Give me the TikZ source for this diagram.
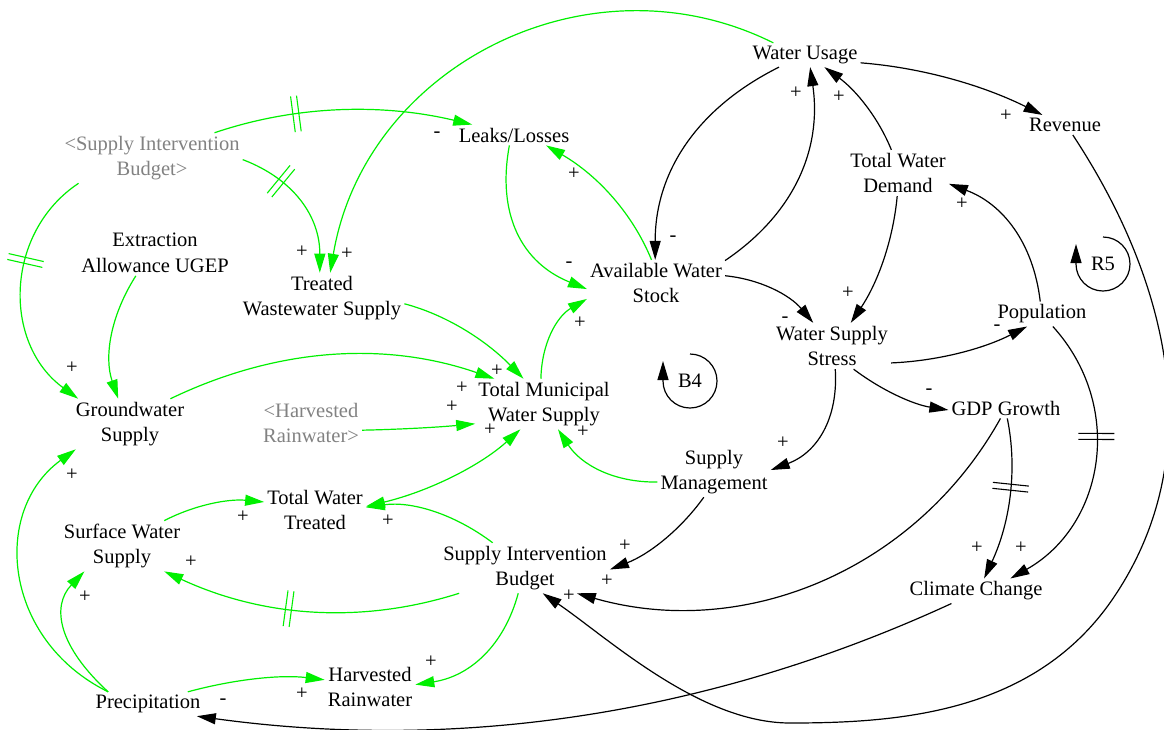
\documentclass[tikz,border=0pt]{standalone}
\usepackage{fontspec}
\setmainfont{Liberation Serif}
\usetikzlibrary{arrows.meta,decorations.markings,calc}
\definecolor{linkgreen}{RGB}{0,240,0}
\definecolor{shadowgray}{RGB}{130,130,130}
\tikzset{
  var/.style={font=\fontsize{20.5}{25.5}\selectfont, align=center, inner sep=3pt},
  shadowvar/.style={var, text=shadowgray},
  sign/.style={font=\fontsize{20.5}{25.5}\selectfont, inner sep=0pt},
  tip/.style={-{Triangle[length=19pt,width=11pt]}},
  glink/.style={line width=1.2pt, draw=linkgreen, tip},
  blink/.style={line width=1.2pt, draw=black, tip},
  gdelay/.style={postaction={decorate, decoration={markings, mark=at position #1 with
      {\draw[-, linkgreen, line width=1.1pt] (-3pt,-18pt) -- (-3pt,18pt) (3pt,-18pt) -- (3pt,18pt);}}}},
  kdelay/.style={postaction={decorate, decoration={markings, mark=at position #1 with
      {\draw[-, black, line width=1.1pt] (-3pt,-18pt) -- (-3pt,18pt) (3pt,-18pt) -- (3pt,18pt);}}}},
  looparrow/.style={line width=1.2pt, draw=black, tip},
}
% a link bent like a quadratic curve: style, start, bend point, end
\newcommand\qlink[4]{\draw[#1] (#2) .. controls ($(#2)!2/3!(#3)$) and ($(#4)!2/3!(#3)$) .. (#4);}
\begin{document}
\begin{tikzpicture}[x=1pt, y=-1pt]
\fill[white] (0,0) rectangle (1164,729);
\useasboundingbox (0,0) rectangle (1164,729);

% variables
\node[var] (wu) at (805,55) {Water Usage};
\node[var] (rev) at (1065,125) {Revenue};
\node[var] (ll) at (514,135) {Leaks/Losses};
\node[shadowvar] (sibg) at (152,158) {<Supply Intervention\\Budget>};
\node[var] (twd) at (898,173) {Total Water\\Demand};
\node[var] (eau) at (155,253) {Extraction\\Allowance UGEP};
\node[var] (tws) at (322,298) {Treated\\Wastewater Supply};
\node[var] (aws) at (656,283) {Available Water\\Stock};
\node[var] (wss) at (832,346) {Water Supply\\Stress};
\node[var] (pop) at (1042,314) {Population};
\node[var] (tmws) at (544,404) {Total Municipal\\Water Supply};
\node[shadowvar] (hrg) at (311,423) {<Harvested\\Rainwater>};
\node[var] (gws) at (130,424) {Groundwater\\Supply};
\node[var] (twt) at (315,510) {Total Water\\Treated};
\node[var] (sws) at (122,546) {Surface Water\\Supply};
\node[var] (sm) at (714,472) {Supply\\Management};
\node[var] (sib) at (525,568) {Supply Intervention\\Budget};
\node[var] (gdp) at (1006,408) {GDP Growth};
\node[var] (cc) at (976,591) {Climate Change};
\node[var] (hr) at (370,687) {Harvested\\Rainwater};
\node[var] (pre) at (148,704) {Precipitation};

% green links
\qlink{glink, gdelay=0.32}{sibg.22}{335,92}{ll.166}
\qlink{glink, gdelay=0.3}{sibg.-1}{320,189}{tws.95}
\draw[glink] (wu.159) .. controls (589,-49) and (365,66) .. (tws.72);
\draw[glink, gdelay=0.38] (sibg.199) .. controls (5,232) and (2,343) .. (gws.154);
\qlink{glink}{eau.230}{97,337}{gws.115}
\qlink{glink}{ll.246}{490,250}{aws.185}
\qlink{glink}{aws.101}{623,190}{ll.-18}
\qlink{glink}{tws.-4}{466,320}{tmws.129}
\qlink{glink}{gws.32}{330,322}{tmws.153}
\qlink{glink}{hrg.-8}{419,429}{tmws.196}
\qlink{glink, {Triangle[length=19pt,width=11pt]}-{Triangle[length=19pt,width=11pt]}}{twt.4}{460,484}{tmws.227}
\qlink{glink}{sib.142}{433,498}{twt.3}
\qlink{glink}{sm.190}{593,483}{tmws.-61}
\qlink{glink}{tmws.97}{542,325}{aws.193}
\qlink{glink}{sws.31}{210,497}{twt.171}
\qlink{glink, gdelay=0.57}{sib.201}{312,640}{sws.-31}
\draw[glink] (pre.163) .. controls (3,640) and (-9,511) .. (gws.205);
\qlink{glink}{pre.163}{34,624}{sws.214}
\qlink{glink}{pre.17}{261,672}{hr.171}
\qlink{glink}{sib.255}{497,672}{hr.3}

% black links
\qlink{blink}{wu.205}{655,129}{aws.92}
\qlink{blink}{aws.18}{828,191}{wu.-67}
\qlink{blink}{twd.106}{872,102}{wu.-32}
\qlink{blink}{wu.-8}{952,70}{rev.156}
\qlink{blink}{twd.268}{891,263}{wss.51}
\qlink{blink}{aws.6}{778,281}{wss.129}
\qlink{blink}{pop.98}{1030,214}{twd.-12}
\qlink{blink}{wss.-16}{961,360}{pop.220}
\qlink{blink}{wss.-47}{897,402}{gdp.182}
\qlink{blink}{wss.-82}{840,444}{sm.2}
\draw[blink, kdelay=0.41] (pop.-49) .. controls (1125,406) and (1105,525) .. (cc.20);
\qlink{blink, kdelay=0.42}{gdp.-83}{1023,495}{cc.57}
\draw[blink] (gdp.242) .. controls (916,570) and (744,641) .. (sib.-26);
\qlink{blink}{sm.248}{668,547}{sib.-1}
\draw[blink] (rev.-52) .. controls (1171,284) and (1209,456) .. (1114,597)
  .. controls (1036,713) and (900,723) .. (790,723)
  .. controls (700,723) and (608,638) .. (sib.-55);
\qlink{blink}{cc.207}{590,770}{pre.-14}

% polarities
\node[sign] (p1) at (437,135) {-};
\node[sign] (p2) at (302,252) {+};
\node[sign] (p3) at (347,254) {+};
\node[sign] (p4) at (72,368) {+};
\node[sign] (p6) at (569,265) {-};
\node[sign] (p7) at (574,174) {+};
\node[sign] (p8) at (497,371) {+};
\node[sign] (p9) at (462,388) {+};
\node[sign] (p10) at (452,407) {+};
\node[sign] (p11) at (490,430) {+};
\node[sign] (p12) at (388,521) {+};
\node[sign] (p13) at (583,432) {+};
\node[sign] (p14) at (580,323) {+};
\node[sign] (p15) at (243,517) {+};
\node[sign] (p16) at (191,562) {+};
\node[sign] (p17) at (72,475) {+};
\node[sign] (p18) at (85,597) {+};
\node[sign] (p19) at (302,694) {+};
\node[sign] (p20) at (431,662) {+};
\node[sign] (p21) at (673,239) {-};
\node[sign] (p22) at (796,93) {+};
\node[sign] (p23) at (839,97) {+};
\node[sign] (p24) at (1006,116) {+};
\node[sign] (p25) at (848,293) {+};
\node[sign] (p26) at (785,320) {-};
\node[sign] (p27) at (962,204) {+};
\node[sign] (p28) at (997,328) {-};
\node[sign] (p29) at (929,392) {-};
\node[sign] (p30) at (783,443) {+};
\node[sign] (p31) at (1021,548) {+};
\node[sign] (p32) at (977,548) {+};
\node[sign] (p33) at (607,581) {+};
\node[sign] (p34) at (625,546) {+};
\node[sign] (p35) at (569,596) {+};
\node[sign] (p36) at (223,702) {-};

% loop markers
\node[sign] (b4) at (690,381) {B4};
\draw[looparrow] ([yshift=27pt]b4.center) arc[start angle=90, end angle=-180, radius=27pt] -- ++(0,-20);
\node[sign] (r5) at (1103,264) {R5};
\draw[looparrow] ([yshift=27pt]r5.center) arc[start angle=90, end angle=-180, radius=27pt] -- ++(0,-20);
\end{tikzpicture}
\end{document}
